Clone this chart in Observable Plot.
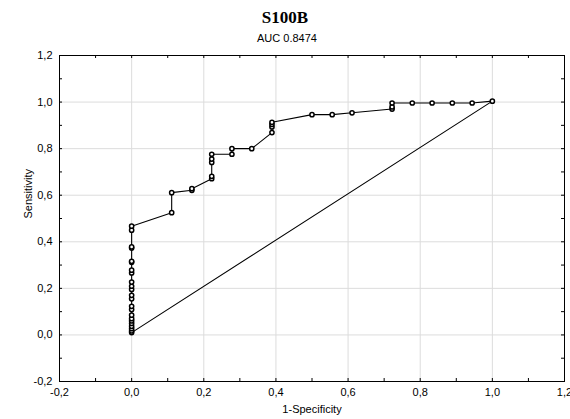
<!DOCTYPE html>
<html><head><meta charset="utf-8">
<script src="https://cdn.jsdelivr.net/npm/d3@7"></script>
<script src="https://cdn.jsdelivr.net/npm/@observablehq/plot@0.6"></script>
<style>
body{margin:0;background:#fff;}
#header{position:relative;width:570px;height:48px;}
#title{position:absolute;left:0;width:570px;text-align:center;top:9px;font:bold 17px "Liberation Serif","Times New Roman",serif;line-height:17px;color:#000;}
#subtitle{position:absolute;left:0;width:574px;text-align:center;top:33px;font:11px "Liberation Sans",Arial,sans-serif;line-height:11px;color:#000;}
</style>
</head><body>
<div id="header"><div id="title">S100B</div><div id="subtitle">AUC 0.8474</div></div>
<div id="chart"></div>
<script>
const rocX = [0,0,0,0,0,0,0,0,0,0,0,0,0,0,0,0,0,0,0,0,0,0,0,
  0.111,0.111,
  0.167,0.167,
  0.222,0.222,0.222,0.222,0.222,
  0.278,0.278,
  0.333,
  0.389,0.389,0.389,0.389,
  0.5,0.556,0.611,
  0.722,0.722,0.722,
  0.778,0.833,0.889,0.944,1.0];
const rocY = [0.010,0.017,0.027,0.037,0.049,0.060,0.070,0.085,0.109,0.123,0.155,0.170,0.195,0.209,0.227,0.266,0.278,0.312,0.316,0.373,0.378,0.450,0.467,
  0.525,0.611,
  0.621,0.628,
  0.671,0.681,0.741,0.755,0.776,
  0.776,0.800,
  0.800,
  0.869,0.893,0.904,0.913,
  0.946,0.946,0.954,
  0.970,0.979,0.996,
  0.996,0.996,0.996,0.996,1.004];
const diagX = [0, 1];
const diagY = [0.010, 1.004];
const majorTicks = [-0.2,0,0.2,0.4,0.6,0.8,1.0,1.2];
const minorTicks = [-0.1,0.1,0.3,0.5,0.7,0.9,1.1];
const gridValues = [0,0.2,0.4,0.6,0.8,1.0];
const xLabel = "1-Specificity";
const yLabel = "Sensitivity";

const fmt = d => d.toFixed(1).replace(".", ",");
const roc = rocX.map((x, i) => ({x, y: rocY[i]}));
const diag = diagX.map((x, i) => ({x, y: diagY[i]}));
const allTicks = majorTicks.concat(minorTicks);

const W = 570, H = 371, mL = 59, mR = 6, mT = 7, mB = 38;
const frameW = W - mL - mR, frameH = H - mT - mB, tickLen = 3;

const chart = Plot.plot({
  width: W, height: H,
  marginLeft: mL, marginRight: mR, marginTop: mT, marginBottom: mB,
  x: {domain: [-0.2, 1.2]},
  y: {domain: [-0.2, 1.2]},
  style: {fontFamily: '"Liberation Sans", Arial, sans-serif', fontSize: "11px", color: "black", background: "white"},
  marks: [
    Plot.ruleX(gridValues, {stroke: "#dcdcdc", strokeWidth: 1}),
    Plot.ruleY(gridValues, {stroke: "#dcdcdc", strokeWidth: 1}),
    Plot.line(diag, {x: "x", y: "y", stroke: "black", strokeWidth: 1.1}),
    Plot.line(roc, {x: "x", y: "y", stroke: "black", strokeWidth: 1.1}),
    Plot.dot(roc, {x: "x", y: "y", r: 2.1, fill: "white", stroke: "black", strokeWidth: 1.5}),
    Plot.ruleX(allTicks, {insetTop: frameH - tickLen}),
    Plot.ruleX(allTicks, {insetBottom: frameH - tickLen}),
    Plot.ruleY(allTicks, {insetRight: frameW - tickLen}),
    Plot.ruleY(allTicks, {insetLeft: frameW - tickLen}),
    Plot.frame({stroke: "black"}),
    Plot.axisX({ticks: majorTicks, tickSize: 0, tickPadding: 7, tickFormat: fmt, label: null}),
    Plot.axisY({ticks: majorTicks, tickSize: 0, tickPadding: 7, tickFormat: fmt, label: null}),
    Plot.text([yLabel], {text: d => d, frameAnchor: "left", dx: -31, rotate: -90}),
    Plot.text([xLabel], {text: d => d, frameAnchor: "bottom", dy: 31.5})
  ]
});
document.getElementById("chart").appendChild(chart);
</script>
</body></html>
